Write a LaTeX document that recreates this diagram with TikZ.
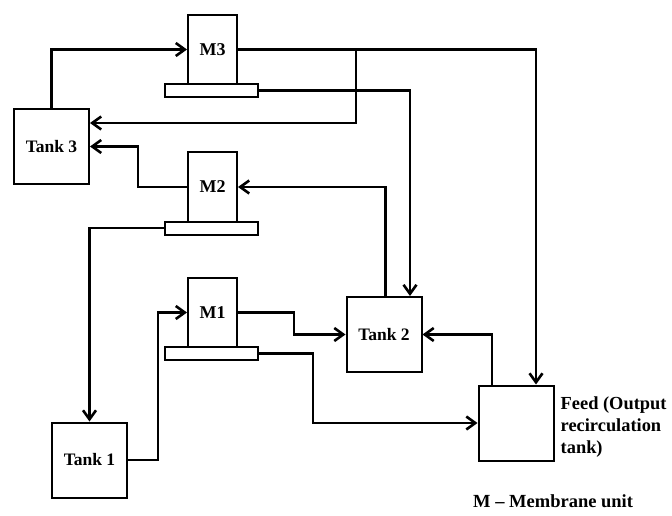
\documentclass[tikz,border=0pt]{standalone}
\usepackage{fontspec}
\setmainfont{Liberation Serif}
\usetikzlibrary{arrows.meta, positioning}

\begin{document}
\begin{tikzpicture}[x=1pt, y=-1pt,
    tank/.style={draw, line width=2pt, minimum width=75pt, minimum height=75pt,
      inner sep=0pt, font=\fontsize{17.5}{21}\selectfont\bfseries},
    unit/.style={draw, line width=2pt, minimum width=49pt, minimum height=69pt,
      inner sep=0pt, font=\fontsize{18}{21}\selectfont\bfseries},
    plate/.style={draw, line width=2pt, minimum width=93pt, minimum height=13pt,
      inner sep=0pt},
    flow/.style={line width=2.6pt, -{Straight Barb[length=9pt, width=13pt, line width=2.6pt]}},
    pipe/.style={line width=2.6pt}]
  \useasboundingbox (0,0) rectangle (672,516);

  % Tanks
  \node[tank] (T3) at (51.5,146.5) {Tank 3};
  \node[tank] (T1) at (89.5,460) {Tank 1};
  \node[tank] (T2) at (384,334.5) {Tank 2};
  \node[tank] (Feed) at (516,423) {};

  % Membrane units with their plates
  \node[unit] (M3) at (212.5,49.5) {M3};
  \node[plate] (B3) at (211.5,90.5) {};
  \node[unit] (M2) at (212.5,187) {M2};
  \node[plate] (B2) at (211.5,228) {};
  \node[unit] (M1) at (212.5,312.5) {M1};
  \node[plate] (B1) at (211.5,353.5) {};

  % Branch point on the M3 line
  \coordinate (split3) at (356,49.5);

  % Connections
  \draw[flow] (T3.north) |- (M3.west);
  \draw[flow] (M3.east) -| ([xshift=20pt]Feed.north);
  \draw[flow] (split3) |- ([yshift=23.5pt]T3.east);
  \draw[flow] (B3.east) -| ([xshift=26pt]T2.north);
  \draw[flow] (M2.west) -- ++(-49,0) |- (T3.east);
  \draw[flow] ([xshift=1.5pt]T2.north) |- (M2.east);
  \draw[flow] (B2.west) -| (T1.north);
  \draw[flow] (T1.east) -- ++(30,0) |- (M1.west);
  \draw[flow] (M1.east) -- ++(56,0) |- (T2.west);
  \draw[flow] (B1.east) -- ++(54,0) |- (Feed.west);
  \draw[flow] ([xshift=-24pt]Feed.north) |- (T2.east);

  % Labels
  \node[right=6pt of Feed, yshift=-4pt, align=left, inner sep=0pt,
    font=\fontsize{18.4}{21.7}\selectfont\bfseries] (feedtext)
    {Feed (Output\\recirculation\\tank)};
  \node[anchor=west, inner sep=0pt, font=\fontsize{18.5}{21}\selectfont\bfseries]
    (legend) at (473,501) {M -- Membrane unit};
\end{tikzpicture}
\end{document}
